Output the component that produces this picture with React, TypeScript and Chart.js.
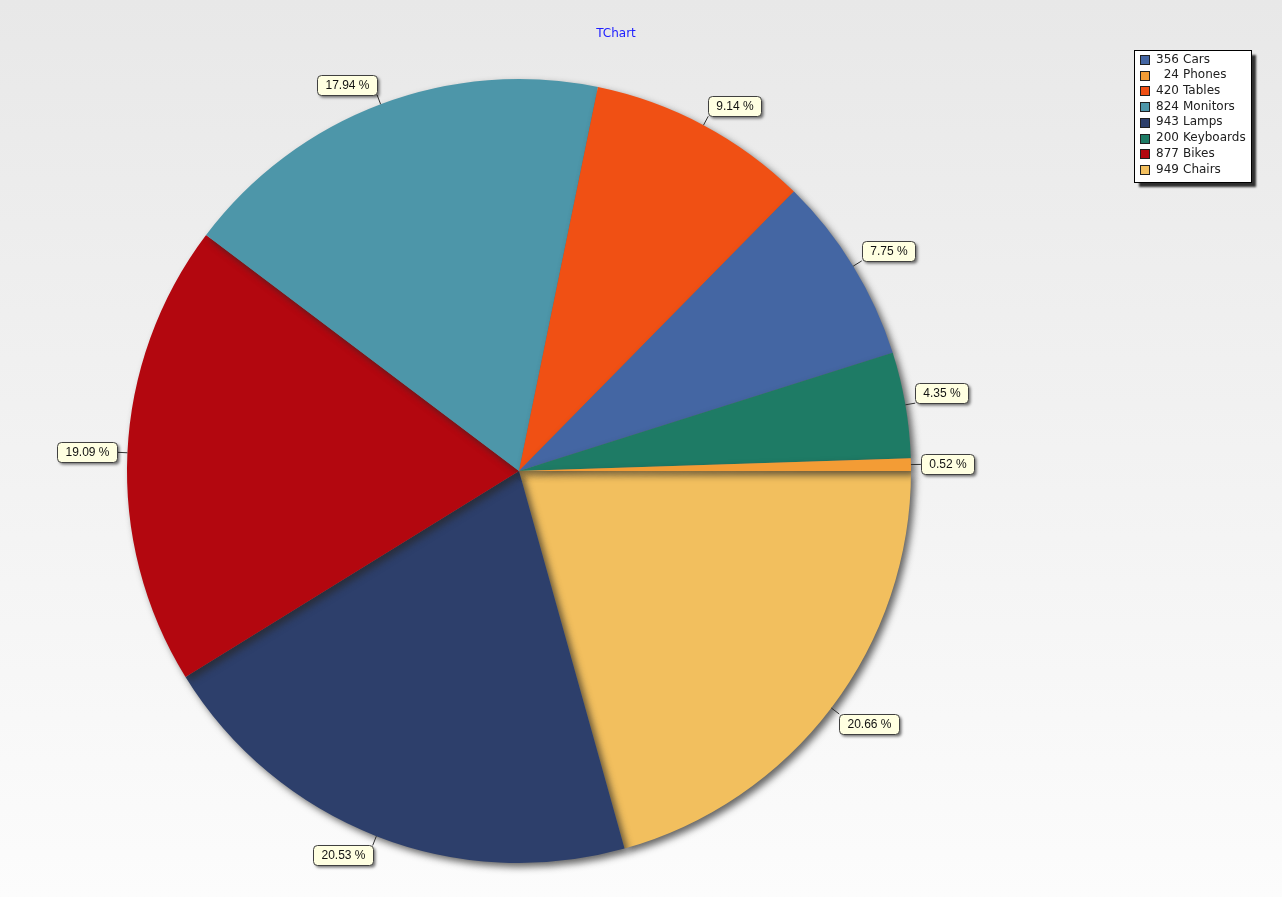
import React, { useEffect, useRef } from "react";
import { Chart, registerables } from "chart.js";

Chart.register(...registerables);

const categories = ["Cars", "Phones", "Tables", "Monitors", "Lamps", "Keyboards", "Bikes", "Chairs"];
const values = [356, 24, 420, 824, 943, 200, 877, 949];
const colors = ["#4466A3", "#F39C35", "#F05014", "#4D96A9", "#2D3F6B", "#1E7B65", "#B3070F", "#F2BF5E"];
const titleText = "TChart";

// Pie draws slices sorted (largest first clockwise from east == ascending counter-clockwise)
const order = categories.map((_, i) => i).sort((a, b) => values[b] - values[a]);
const pieLabels = order.map((i) => categories[i]);
const pieValues = order.map((i) => values[i]);
const pieColors = order.map((i) => colors[i]);
const total = values.reduce((a, b) => a + b, 0);

function roundRect(ctx: CanvasRenderingContext2D, x: number, y: number, w: number, h: number, r: number) {
  ctx.beginPath();
  ctx.moveTo(x + r, y);
  ctx.lineTo(x + w - r, y);
  ctx.quadraticCurveTo(x + w, y, x + w, y + r);
  ctx.lineTo(x + w, y + h - r);
  ctx.quadraticCurveTo(x + w, y + h, x + w - r, y + h);
  ctx.lineTo(x + r, y + h);
  ctx.quadraticCurveTo(x, y + h, x, y + h - r);
  ctx.lineTo(x, y + r);
  ctx.quadraticCurveTo(x, y, x + r, y);
  ctx.closePath();
}

const decorPlugin = {
  id: "decor",
  beforeDraw(chart: any) {
    const ctx = chart.ctx as CanvasRenderingContext2D;
    const g = ctx.createLinearGradient(0, 0, 0, chart.height);
    g.addColorStop(0, "#e8e8e8");
    g.addColorStop(1, "#fcfcfc");
    ctx.save();
    ctx.fillStyle = g;
    ctx.fillRect(0, 0, chart.width, chart.height);
    ctx.restore();
  },
  beforeDatasetsDraw(chart: any) {
    const ctx = chart.ctx as CanvasRenderingContext2D;
    ctx.save();
    ctx.shadowColor = "rgba(40,40,40,0.7)";
    ctx.shadowBlur = 7;
    ctx.shadowOffsetX = 4;
    ctx.shadowOffsetY = 4;
  },
  afterDatasetsDraw(chart: any) {
    const ctx = chart.ctx as CanvasRenderingContext2D;
    ctx.restore();

    // marks
    const meta = chart.getDatasetMeta(0);
    ctx.save();
    ctx.font = "12px 'Liberation Sans', Arial, sans-serif";
    meta.data.forEach((arc: any, i: number) => {
      const mid = (arc.startAngle + arc.endAngle) / 2;
      const c = Math.cos(mid);
      const s = Math.sin(mid);
      const r = arc.outerRadius;
      const x0 = arc.x + c * r;
      const y0 = arc.y + s * r;
      const ex = arc.x + c * (r + 10);
      const ey = arc.y + s * (r + 10);
      const txt = ((pieValues[i] / total) * 100).toFixed(2) + " %";
      const tw = ctx.measureText(txt).width;
      const w = Math.round(tw + 16);
      const h = 20;
      let left = c >= 0 ? ex : ex - w;
      let top: number;
      if (Math.abs(s) < 0.1) top = ey - h / 2;
      else if (s < 0) top = ey - h;
      else top = ey;
      left = Math.round(left) + 0.5;
      top = Math.round(top) + 0.5;

      ctx.strokeStyle = "#303030";
      ctx.lineWidth = 1;
      ctx.beginPath();
      ctx.moveTo(x0, y0);
      ctx.lineTo(ex, ey);
      ctx.stroke();

      ctx.save();
      ctx.shadowColor = "rgba(0,0,0,0.55)";
      ctx.shadowBlur = 3;
      ctx.shadowOffsetX = 2;
      ctx.shadowOffsetY = 2;
      roundRect(ctx, left, top, w, h, 4);
      ctx.fillStyle = "#ffffe1";
      ctx.fill();
      ctx.restore();
      roundRect(ctx, left, top, w, h, 4);
      ctx.strokeStyle = "#404040";
      ctx.stroke();

      ctx.fillStyle = "#111111";
      ctx.textAlign = "center";
      ctx.textBaseline = "middle";
      ctx.fillText(txt, left + w / 2, top + h / 2 + 0.5);
    });
    ctx.restore();
  },
  afterDraw(chart: any) {
    const ctx = chart.ctx as CanvasRenderingContext2D;
    ctx.save();
    // title
    ctx.font = "12px 'DejaVu Sans', sans-serif";
    ctx.fillStyle = "#2020ff";
    ctx.textAlign = "center";
    ctx.textBaseline = "middle";
    ctx.fillText(titleText, 616, 34);

    // legend
    const lx = 1134.5, ly = 50.5, lw = 117, lh = 132;
    ctx.save();
    ctx.shadowColor = "rgba(0,0,0,0.8)";
    ctx.shadowBlur = 2;
    ctx.shadowOffsetX = 4;
    ctx.shadowOffsetY = 4;
    ctx.fillStyle = "#ffffff";
    ctx.fillRect(lx, ly, lw, lh);
    ctx.restore();
    ctx.strokeStyle = "#000000";
    ctx.lineWidth = 1;
    ctx.strokeRect(lx, ly, lw, lh);

    ctx.font = "12px 'DejaVu Sans', sans-serif";
    ctx.textBaseline = "middle";
    categories.forEach((name, i) => {
      const cy = 59.5 + i * 15.7;
      const sy = Math.round(cy - 4.5) + 0.5;
      ctx.fillStyle = colors[i];
      ctx.fillRect(1140.5, sy, 9, 9);
      ctx.strokeStyle = "#202020";
      ctx.strokeRect(1140.5, sy, 9, 9);
      ctx.fillStyle = "#202020";
      ctx.textAlign = "right";
      ctx.fillText(String(values[i]), 1179, cy);
      ctx.textAlign = "left";
      ctx.fillText(name, 1183, cy);
    });
    ctx.restore();
  },
};

export default function App() {
  const ref = useRef<HTMLCanvasElement | null>(null);
  useEffect(() => {
    document.body.style.margin = "0";
    const canvas = ref.current;
    if (!canvas) return;
    const chart = new Chart(canvas, {
      type: "pie",
      data: {
        labels: pieLabels,
        datasets: [
          {
            data: pieValues,
            backgroundColor: pieColors,
            borderWidth: 0,
          },
        ],
      },
      options: {
        responsive: false,
        animation: false,
        rotation: 90,
        layout: { padding: { left: 127, right: 371, top: 79, bottom: 34 } },
        plugins: {
          legend: { display: false },
          title: { display: false },
          tooltip: { enabled: false },
        },
      },
      plugins: [decorPlugin],
    });
    return () => chart.destroy();
  }, []);
  return <canvas ref={ref} width={1282} height={897} style={{ display: "block" }} />;
}
